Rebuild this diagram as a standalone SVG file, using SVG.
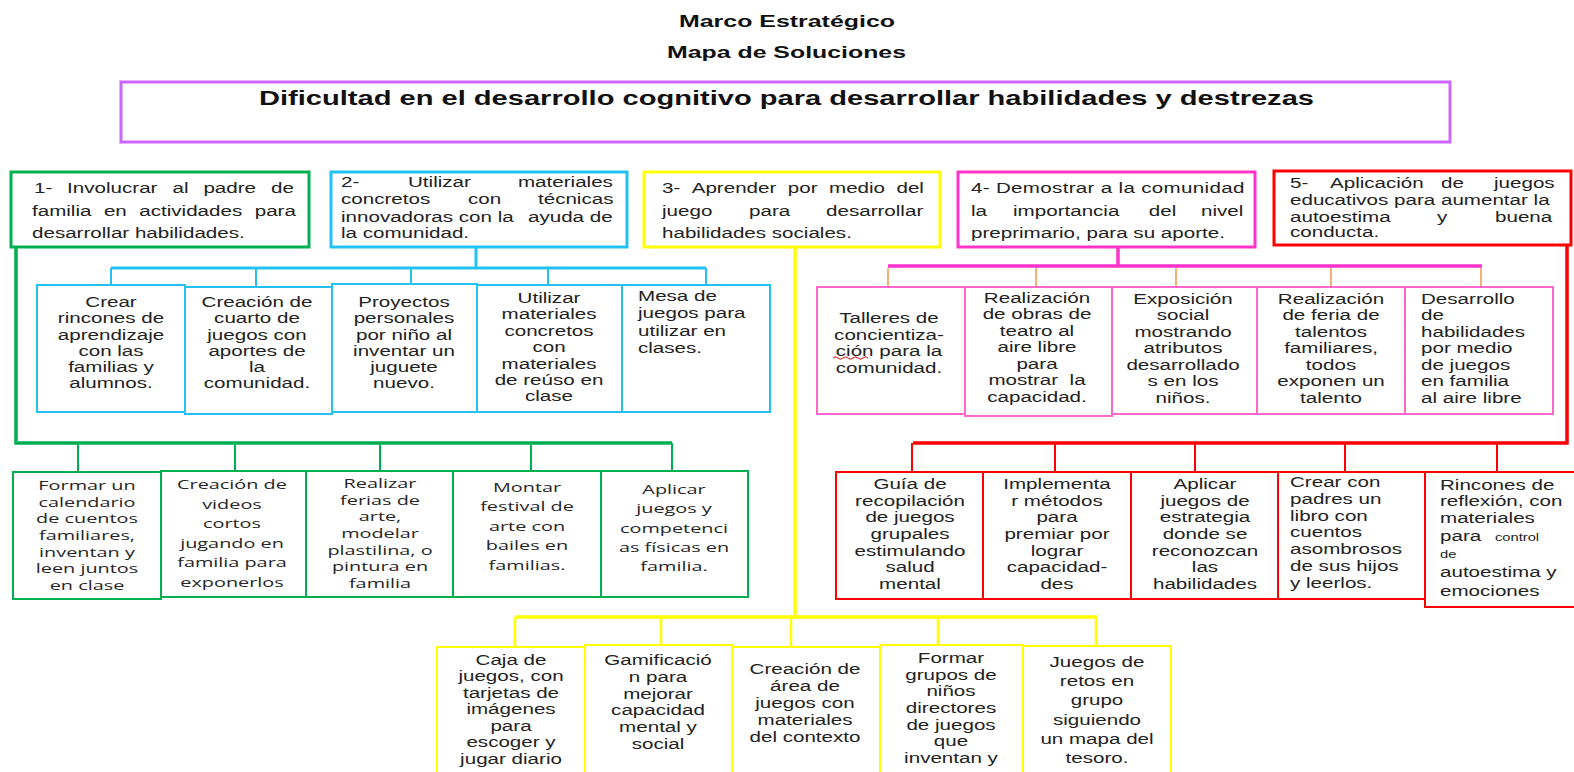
<svg xmlns="http://www.w3.org/2000/svg" width="1574" height="772" viewBox="0 0 1574 772">
<style>
.t{font-family:"Liberation Sans",Arial,sans-serif;font-size:14px;fill:#222}
.o{font-family:"Open Sans","Liberation Sans",sans-serif;font-size:13.5px;fill:#262626}
.m{text-anchor:middle}
.b{font-family:"Liberation Sans",Arial,sans-serif;font-weight:bold;fill:#111}
.sm{font-size:10px}
rect{fill:#fff}
.hb{stroke-width:3}
.sb{stroke-width:2}
.gr{stroke:#00B050}.bl{stroke:#22C1F1}.ye{stroke:#FFFF00}.pk{stroke:#FF33CC}.pk2{stroke:#FF66CC}.rd{stroke:#FF0000}
.c{fill:none}
</style>
<rect x="0" y="0" width="1574" height="772" fill="#fff"/>
<g id="titles">
<text class="b" x="679" y="27" font-size="17" textLength="216" lengthAdjust="spacingAndGlyphs">Marco Estratégico</text>
<text class="b" x="667" y="58" font-size="17" textLength="239" lengthAdjust="spacingAndGlyphs">Mapa de Soluciones</text>
</g>
<g id="root">
<rect x="121" y="82" width="1329" height="60" stroke="#CC66FF" stroke-width="3"/>
<text class="b" x="259" y="105" font-size="20" textLength="1055" lengthAdjust="spacingAndGlyphs">Dificultad en el desarrollo cognitivo para desarrollar habilidades y destrezas</text>
</g>
<g id="connectors" class="c">
<path d="M476 247V268M111 268H706" stroke="#22C1F1" stroke-width="3"/>
<path d="M111 268V285M256 268V287M411 268V284M548 268V285M706 268V285" stroke="#22C1F1" stroke-width="2"/>
<path d="M16 246V443H672" stroke="#00B050" stroke-width="3.5"/>
<path d="M78 443V472M235 443V471M380 443V471M531 443V471M672 443V471" stroke="#00B050" stroke-width="2"/>
<path d="M795 247V617M515 617H1097" stroke="#FFFF00" stroke-width="3.5"/>
<path d="M515 617V647M661 617V645M791 617V647M938 617V645M1096 617V646" stroke="#FFFF00" stroke-width="2.5"/>
<path d="M1118 247V266M888 266H1482" stroke="#FF33CC" stroke-width="3.5"/>
<path d="M888 268V287M1036 268V287M1176 268V287M1331 268V287M1481 268V287M965 320V337" stroke="#F79646" stroke-width="1.5"/>
<path d="M1567 245V443H913" stroke="#FF0000" stroke-width="3.5"/>
<path d="M912 443V472M1055 443V472M1195 443V472M1345 443V472M1497 443V472" stroke="#FF0000" stroke-width="2"/>
</g>
<g id="h1">
<rect class="hb gr" x="11" y="172" width="298" height="75"/>
<text class="t" transform="matrix(1.47 0 0 1 32 0)"><tspan x="1.4" y="193">1-</tspan><tspan x="23.9">Involucrar</tspan><tspan x="95.6">al</tspan><tspan x="116.6">padre</tspan><tspan x="162.6">de</tspan><tspan x="0" y="216">familia</tspan><tspan x="48.9">en</tspan><tspan x="73">actividades</tspan><tspan x="151.5">para</tspan><tspan x="0" y="238">desarrollar habilidades.</tspan></text>
</g>
<g id="h2">
<rect class="hb bl" x="331" y="172" width="296" height="75"/>
<text class="t" transform="matrix(1.47 0 0 1 341 0)"><tspan x="0" y="187">2-</tspan><tspan x="45.6">Utilizar</tspan><tspan x="120.4">materiales</tspan><tspan x="0" y="204">concretos</tspan><tspan x="86.4">con</tspan><tspan x="134">técnicas</tspan><tspan x="0" y="222">innovadoras con la</tspan><tspan x="127.2">ayuda de</tspan><tspan x="0" y="238">la comunidad.</tspan></text>
</g>
<g id="h3">
<rect class="hb ye" x="644" y="172" width="296" height="75"/>
<text class="t" transform="matrix(1.47 0 0 1 662 0)"><tspan x="0" y="193">3-</tspan><tspan x="20.2">Aprender</tspan><tspan x="85.6">por</tspan><tspan x="113.6">medio</tspan><tspan x="159.5">del</tspan><tspan x="0" y="216">juego</tspan><tspan x="59.2">para</tspan><tspan x="111.6">desarrollar</tspan><tspan x="0" y="238">habilidades sociales.</tspan></text>
</g>
<g id="h4">
<rect class="hb pk" x="958" y="172" width="297" height="75"/>
<text class="t" transform="matrix(1.47 0 0 1 971 0)"><tspan x="0" y="193" textLength="186" lengthAdjust="spacing">4- Demostrar a la comunidad</tspan><tspan x="0" y="216">la</tspan><tspan x="28.6">importancia</tspan><tspan x="121">del</tspan><tspan x="156.5">nivel</tspan><tspan x="0" y="238">preprimario, para su aporte.</tspan></text>
</g>
<g id="h5">
<rect class="hb rd" x="1274" y="171" width="297" height="74"/>
<text class="t" transform="matrix(1.47 0 0 1 1290 0)"><tspan x="0" y="188">5-</tspan><tspan x="27.2">Aplicación</tspan><tspan x="102.7">de</tspan><tspan x="138.8">juegos</tspan><tspan x="0" y="205">educativos para aumentar la</tspan><tspan x="0" y="222">autoestima</tspan><tspan x="100">y</tspan><tspan x="139.5">buena</tspan><tspan x="0" y="237">conducta.</tspan></text>
</g>
<!-- blue sub boxes -->
<g id="b1"><rect class="sb bl" x="37" y="285" width="148" height="127"/>
<text class="t m" transform="matrix(1.47 0 0 1 111 0)"><tspan x="0" y="307">Crear</tspan><tspan x="0" dy="16.3">rincones de</tspan><tspan x="0" dy="16.3">aprendizaje</tspan><tspan x="0" dy="16.3">con las</tspan><tspan x="0" dy="16.3">familias y</tspan><tspan x="0" dy="16.3">alumnos.</tspan></text></g>
<g id="b2"><rect class="sb bl" x="185" y="287" width="147" height="127"/>
<text class="t m" transform="matrix(1.47 0 0 1 257 0)"><tspan x="0" y="307">Creación de</tspan><tspan x="0" dy="16.3">cuarto de</tspan><tspan x="0" dy="16.3">juegos con</tspan><tspan x="0" dy="16.3">aportes de</tspan><tspan x="0" dy="16.3">la</tspan><tspan x="0" dy="16.3">comunidad.</tspan></text></g>
<g id="b3"><rect class="sb bl" x="332" y="284" width="145" height="128"/>
<text class="t m" transform="matrix(1.47 0 0 1 404 0)"><tspan x="0" y="307">Proyectos</tspan><tspan x="0" dy="16.3">personales</tspan><tspan x="0" dy="16.3">por niño al</tspan><tspan x="0" dy="16.3">inventar un</tspan><tspan x="0" dy="16.3">juguete</tspan><tspan x="0" dy="16.3">nuevo.</tspan></text></g>
<g id="b4"><rect class="sb bl" x="477" y="285" width="145" height="127"/>
<text class="t m" transform="matrix(1.47 0 0 1 549 0)"><tspan x="0" y="303">Utilizar</tspan><tspan x="0" dy="16.4">materiales</tspan><tspan x="0" dy="16.4">concretos</tspan><tspan x="0" dy="16.4">con</tspan><tspan x="0" dy="16.4">materiales</tspan><tspan x="0" dy="16.4">de reúso en</tspan><tspan x="0" dy="16.4">clase</tspan></text></g>
<g id="b5"><rect class="sb bl" x="622" y="285" width="148" height="127"/>
<text class="t" transform="matrix(1.47 0 0 1 638 0)"><tspan x="0" y="301">Mesa de</tspan><tspan x="0" dy="17.3">juegos para</tspan><tspan x="0" dy="17.3">utilizar en</tspan><tspan x="0" dy="17.3">clases.</tspan></text></g>
<!-- green sub boxes -->
<g id="g1"><rect class="sb gr" x="13" y="472" width="148" height="127"/>
<text class="o m" transform="matrix(1.47 0 0 1 87 0)"><tspan x="0" y="490">Formar un</tspan><tspan x="0" dy="16.7">calendario</tspan><tspan x="0" dy="16.7">de cuentos</tspan><tspan x="0" dy="16.7">familiares,</tspan><tspan x="0" dy="16.7">inventan y</tspan><tspan x="0" dy="16.7">leen juntos</tspan><tspan x="0" dy="16.7">en clase</tspan></text></g>
<g id="g2"><rect class="sb gr" x="161" y="471" width="145" height="126"/>
<text class="o m" transform="matrix(1.47 0 0 1 232 0)"><tspan x="0" y="489">Creación de</tspan><tspan x="0" dy="19.6">videos</tspan><tspan x="0" dy="19.6">cortos</tspan><tspan x="0" dy="19.6">jugando en</tspan><tspan x="0" dy="19.6">familia para</tspan><tspan x="0" dy="19.6">exponerlos</tspan></text></g>
<g id="g3"><rect class="sb gr" x="306" y="471" width="147" height="126"/>
<text class="o m" transform="matrix(1.47 0 0 1 380 0)"><tspan x="0" y="488">Realizar</tspan><tspan x="0" dy="16.7">ferias de</tspan><tspan x="0" dy="16.7">arte,</tspan><tspan x="0" dy="16.7">modelar</tspan><tspan x="0" dy="16.7">plastilina, o</tspan><tspan x="0" dy="16.7">pintura en</tspan><tspan x="0" dy="16.7">familia</tspan></text></g>
<g id="g4"><rect class="sb gr" x="453" y="471" width="148" height="126"/>
<text class="o m" transform="matrix(1.47 0 0 1 527 0)"><tspan x="0" y="492">Montar</tspan><tspan x="0" dy="19.5">festival de</tspan><tspan x="0" dy="19.5">arte con</tspan><tspan x="0" dy="19.5">bailes en</tspan><tspan x="0" dy="19.5">familias.</tspan></text></g>
<g id="g5"><rect class="sb gr" x="601" y="471" width="147" height="126"/>
<text class="o m" transform="matrix(1.47 0 0 1 674 0)"><tspan x="0" y="494">Aplicar</tspan><tspan x="0" dy="19.3">juegos y</tspan><tspan x="0" dy="19.3">competenci</tspan><tspan x="0" dy="19.3">as físicas en</tspan><tspan x="0" dy="19.3">familia.</tspan></text></g>
<!-- pink sub boxes -->
<g id="p1"><rect class="sb pk2" x="817" y="287" width="148" height="127"/>
<text class="t m" transform="matrix(1.47 0 0 1 889 0)"><tspan x="0" y="323">Talleres de</tspan><tspan x="0" dy="16.7">concientiza-</tspan><tspan x="0" dy="16.7">ción para la</tspan><tspan x="0" dy="16.7">comunidad.</tspan></text>
<path d="M833 358q2.5 -2.5 5 0t5 0t5 0t5 0t5 0t5 0t5 0" fill="none" stroke="#E00000" stroke-width="1"/></g>
<g id="p2"><rect class="sb pk2" x="965" y="287" width="147" height="129"/>
<text class="t m" transform="matrix(1.47 0 0 1 1037 0)"><tspan x="0" y="303">Realización</tspan><tspan x="0" dy="16.5">de obras de</tspan><tspan x="0" dy="16.5">teatro al</tspan><tspan x="0" dy="16.5">aire libre</tspan><tspan x="0" dy="16.5">para</tspan><tspan x="0" dy="16.5" xml:space="preserve">mostrar  la</tspan><tspan x="0" dy="16.5">capacidad.</tspan></text></g>
<g id="p3"><rect class="sb pk2" x="1112" y="287" width="145" height="127"/>
<text class="t m" transform="matrix(1.47 0 0 1 1183 0)"><tspan x="0" y="304">Exposición</tspan><tspan x="0" dy="16.5">social</tspan><tspan x="0" dy="16.5">mostrando</tspan><tspan x="0" dy="16.5">atributos</tspan><tspan x="0" dy="16.5">desarrollado</tspan><tspan x="0" dy="16.5">s en los</tspan><tspan x="0" dy="16.5">niños.</tspan></text></g>
<g id="p4"><rect class="sb pk2" x="1257" y="287" width="148" height="127"/>
<text class="t m" transform="matrix(1.47 0 0 1 1331 0)"><tspan x="0" y="304">Realización</tspan><tspan x="0" dy="16.5">de feria de</tspan><tspan x="0" dy="16.5">talentos</tspan><tspan x="0" dy="16.5">familiares,</tspan><tspan x="0" dy="16.5">todos</tspan><tspan x="0" dy="16.5">exponen un</tspan><tspan x="0" dy="16.5">talento</tspan></text></g>
<g id="p5"><rect class="sb pk2" x="1405" y="287" width="148" height="127"/>
<text class="t" transform="matrix(1.47 0 0 1 1421 0)"><tspan x="0" y="304">Desarrollo</tspan><tspan x="0" dy="16.5">de</tspan><tspan x="0" dy="16.5">habilidades</tspan><tspan x="0" dy="16.5">por medio</tspan><tspan x="0" dy="16.5">de juegos</tspan><tspan x="0" dy="16.5">en familia</tspan><tspan x="0" dy="16.5">al aire libre</tspan></text></g>
<!-- red sub boxes -->
<g id="r1"><rect class="sb rd" x="836" y="472" width="147" height="127"/>
<text class="t m" transform="matrix(1.47 0 0 1 910 0)"><tspan x="0" y="489">Guía de</tspan><tspan x="0" dy="16.7">recopilación</tspan><tspan x="0" dy="16.7">de juegos</tspan><tspan x="0" dy="16.7">grupales</tspan><tspan x="0" dy="16.7">estimulando</tspan><tspan x="0" dy="16.7">salud</tspan><tspan x="0" dy="16.7">mental</tspan></text></g>
<g id="r2"><rect class="sb rd" x="983" y="472" width="148" height="127"/>
<text class="t m" transform="matrix(1.47 0 0 1 1057 0)"><tspan x="0" y="489">Implementa</tspan><tspan x="0" dy="16.7">r métodos</tspan><tspan x="0" dy="16.7">para</tspan><tspan x="0" dy="16.7">premiar por</tspan><tspan x="0" dy="16.7">lograr</tspan><tspan x="0" dy="16.7">capacidad-</tspan><tspan x="0" dy="16.7">des</tspan></text></g>
<g id="r3"><rect class="sb rd" x="1131" y="472" width="147" height="127"/>
<text class="t m" transform="matrix(1.47 0 0 1 1205 0)"><tspan x="0" y="489">Aplicar</tspan><tspan x="0" dy="16.7">juegos de</tspan><tspan x="0" dy="16.7">estrategia</tspan><tspan x="0" dy="16.7">donde se</tspan><tspan x="0" dy="16.7">reconozcan</tspan><tspan x="0" dy="16.7">las</tspan><tspan x="0" dy="16.7">habilidades</tspan></text></g>
<g id="r4"><rect class="sb rd" x="1278" y="472" width="147" height="127"/>
<text class="t" transform="matrix(1.47 0 0 1 1290 0)"><tspan x="0" y="487">Crear con</tspan><tspan x="0" dy="16.8">padres un</tspan><tspan x="0" dy="16.8">libro con</tspan><tspan x="0" dy="16.8">cuentos</tspan><tspan x="0" dy="16.8">asombrosos</tspan><tspan x="0" dy="16.8">de sus hijos</tspan><tspan x="0" dy="16.8">y leerlos.</tspan></text></g>
<g id="r5"><rect class="sb rd" x="1425" y="472" width="152" height="135"/>
<text class="t" transform="matrix(1.47 0 0 1 1440 0)"><tspan x="0" y="490">Rincones de</tspan><tspan x="0" y="506">reflexión, con</tspan><tspan x="0" y="523">materiales</tspan><tspan x="0" y="541">para</tspan><tspan x="37.4" y="541" class="sm">control</tspan><tspan x="0" y="558" class="sm">de</tspan><tspan x="0" y="577">autoestima y</tspan><tspan x="0" y="596">emociones</tspan></text></g>
<!-- yellow sub boxes -->
<g id="y1"><rect class="sb ye" x="437" y="647" width="148" height="132"/>
<text class="t m" transform="matrix(1.47 0 0 1 511 0)"><tspan x="0" y="665">Caja de</tspan><tspan x="0" dy="16.5">juegos, con</tspan><tspan x="0" dy="16.5">tarjetas de</tspan><tspan x="0" dy="16.5">imágenes</tspan><tspan x="0" dy="16.5">para</tspan><tspan x="0" dy="16.5">escoger y</tspan><tspan x="0" dy="16.5">jugar diario</tspan></text></g>
<g id="y2"><rect class="sb ye" x="585" y="645" width="147" height="134"/>
<text class="t m" transform="matrix(1.47 0 0 1 658 0)"><tspan x="0" y="665">Gamificació</tspan><tspan x="0" dy="16.8">n para</tspan><tspan x="0" dy="16.8">mejorar</tspan><tspan x="0" dy="16.8">capacidad</tspan><tspan x="0" dy="16.8">mental y</tspan><tspan x="0" dy="16.8">social</tspan></text></g>
<g id="y3"><rect class="sb ye" x="732" y="647" width="148" height="132"/>
<text class="t m" transform="matrix(1.47 0 0 1 805 0)"><tspan x="0" y="674">Creación de</tspan><tspan x="0" dy="17">área de</tspan><tspan x="0" dy="17">juegos con</tspan><tspan x="0" dy="17">materiales</tspan><tspan x="0" dy="17">del contexto</tspan></text></g>
<g id="y4"><rect class="sb ye" x="880" y="645" width="143" height="134"/>
<text class="t m" transform="matrix(1.47 0 0 1 951 0)"><tspan x="0" y="663">Formar</tspan><tspan x="0" dy="16.7">grupos de</tspan><tspan x="0" dy="16.7">niños</tspan><tspan x="0" dy="16.7">directores</tspan><tspan x="0" dy="16.7">de juegos</tspan><tspan x="0" dy="16.7">que</tspan><tspan x="0" dy="16.7">inventan y</tspan></text></g>
<g id="y5"><rect class="sb ye" x="1023" y="646" width="148" height="133"/>
<text class="t m" transform="matrix(1.47 0 0 1 1097 0)"><tspan x="0" y="667">Juegos de</tspan><tspan x="0" dy="19.2">retos en</tspan><tspan x="0" dy="19.2">grupo</tspan><tspan x="0" dy="19.2">siguiendo</tspan><tspan x="0" dy="19.2">un mapa del</tspan><tspan x="0" dy="19.2">tesoro.</tspan></text></g>
</svg>
